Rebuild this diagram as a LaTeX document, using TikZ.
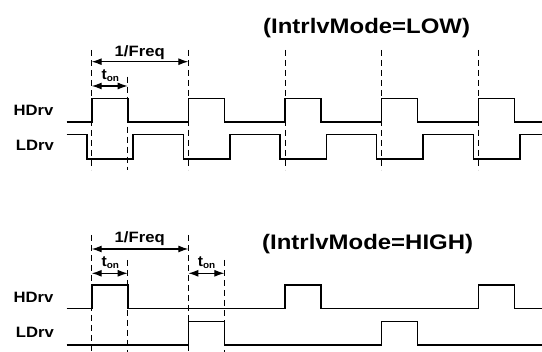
\documentclass[tikz,border=0pt]{standalone}
\usepackage{fontspec}
\setmainfont{Liberation Sans}
\usetikzlibrary{arrows.meta}
\begin{document}
\begin{tikzpicture}[x=1pt,y=-1pt,
  wave/.style={line width=1.6pt, line join=miter},
  guide/.style={line width=1pt, dash pattern=on 6pt off 4pt},
  dim/.style={line width=1.2pt, {Latex[length=10pt,width=7pt]}-{Latex[length=10pt,width=7pt]}},
  lbl/.style={font=\bfseries\fontsize{15}{15}\selectfont, xscale=1.11, inner sep=0pt, anchor=base west},
  tlbl/.style={font=\bfseries\fontsize{15}{15}\selectfont, xscale=1.05, inner sep=0pt, anchor=base west},
  ttl/.style={font=\bfseries\fontsize{21}{21}\selectfont, xscale=1.14, inner sep=0pt, anchor=base west},
]
\useasboundingbox (0,0) rectangle (542,352);
\newcommand{\ton}{t\raisebox{-2pt}{\fontsize{9.5}{9.5}\selectfont on}}

% ---------- top: IntrlvMode = LOW ----------
\node[ttl] (t1) at (263,33.3) {(IntrlvMode=LOW)};
\node[lbl] (h1) at (13.3,115.7) {HDrv};
\node[lbl] (l1) at (15.7,150.7) {LDrv};

\draw[guide] (91.7,50) -- (91.7,170);
\draw[guide] (127.7,76.7) -- (127.7,170);
\foreach \r in {188.35,285,381.65,478.3}
  \draw[guide] (\r,50) -- (\r,170);

\draw[wave] (66.7,122.3)
  foreach \r in {91.7,188.35,285,381.65,478.3}
  { -- (\r,122.3) -- (\r,98.7) -- (\r+36,98.7) -- (\r+36,122.3) }
  -- (542,122.3);
\draw[wave] (66.7,134.7)
  foreach \r in {91.7,188.35,285,381.65,478.3}
  { -- (\r-5,134.7) -- (\r-5,159) -- (\r+41.5,159) -- (\r+41.5,134.7) }
  -- (542,134.7);

\coordinate (fa1) at (91.7,61.7);
\coordinate (fb1) at (188.35,61.7);
\draw[dim] (fa1) -- (fb1);
\node[lbl, anchor=base] (fq1) at (139.7,56.7) {1/Freq};
\coordinate (ta1) at (91.7,86);
\coordinate (tb1) at (127.7,86);
\draw[dim] (ta1) -- (tb1);
\node[tlbl] (on1) at (101.3,79.3) {\ton};

% ---------- bottom: IntrlvMode = HIGH ----------
\node[ttl] (t2) at (262,250) {(IntrlvMode=HIGH)};
\node[lbl] (h2) at (13.3,302.7) {HDrv};
\node[lbl] (l2) at (15.7,337.7) {LDrv};

\draw[guide] (91.7,235) -- (91.7,352);
\draw[guide] (127.7,260) -- (127.7,352);
\draw[guide] (188.35,235) -- (188.35,352);
\draw[guide] (224.35,260) -- (224.35,352);

\draw[wave] (66.7,308.7)
  foreach \r in {91.7,285,478.3}
  { -- (\r,308.7) -- (\r,285.3) -- (\r+36,285.3) -- (\r+36,308.7) }
  -- (542,308.7);
\draw[wave] (66.7,345.3)
  foreach \r in {188.35,381.65}
  { -- (\r,345.3) -- (\r,321.7) -- (\r+36,321.7) -- (\r+36,345.3) }
  -- (542,345.3);

\coordinate (fa2) at (91.7,249);
\coordinate (fb2) at (188.35,249);
\draw[dim] (fa2) -- (fb2);
\node[lbl, anchor=base] (fq2) at (139.7,242.7) {1/Freq};
\coordinate (ta2) at (91.7,273.3);
\coordinate (tb2) at (127.7,273.3);
\draw[dim] (ta2) -- (tb2);
\node[tlbl] (on2) at (101.3,266.5) {\ton};
\coordinate (ta3) at (188.35,273.3);
\coordinate (tb3) at (224.35,273.3);
\draw[dim] (ta3) -- (tb3);
\node[tlbl] (on3) at (197.6,266.5) {\ton};
\end{tikzpicture}
\end{document}
